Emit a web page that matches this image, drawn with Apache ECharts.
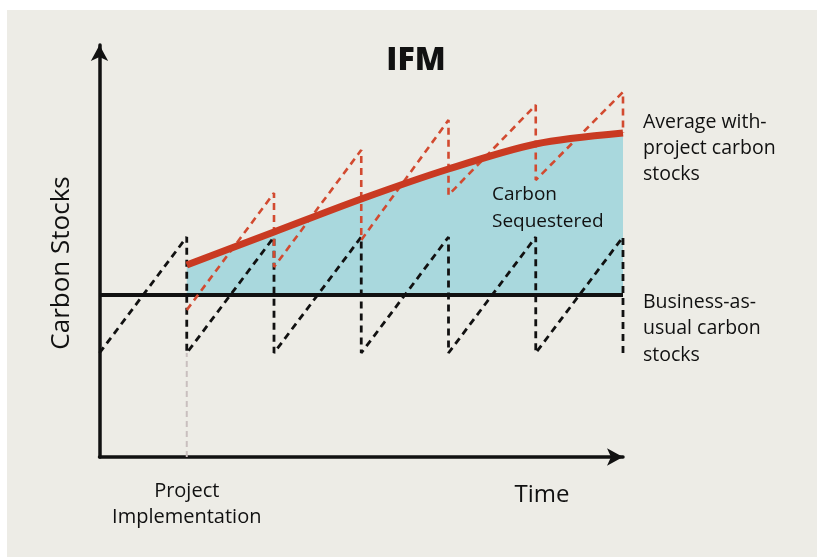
<!DOCTYPE html>
<html>
<head>
<meta charset="utf-8">
<script src="https://cdn.jsdelivr.net/npm/echarts@6/dist/echarts.min.js"></script>
<style>
  html, body { margin: 0; padding: 0; background: #ffffff; }
  #main { width: 817px; height: 557px; }
</style>
</head>
<body>
<div id="main"></div>
<script>
// harvest cycles along the time axis (cycle 1 = project implementation)
var cycleX = [0, 1, 2, 3, 4, 5, 6];
// business-as-usual stocks: just after harvest / just before harvest
var bauLow = [10.4, 10.4, 10.4, 10.4, 10.4, 10.4, 10.4];
var bauPeak = [22, 22, 22, 22, 22, 22, 22];
var bauAverage = 16.2;

// with-project stocks (start at project implementation)
var projX = [1, 2, 3, 4, 5, 6];
var projLow = [14.7, 19.0, 21.7, 26.2, 27.7, 32.4];
var projPeak = [null, 26.4, 30.7, 33.7, 35.2, 36.5];

// average with-project carbon stocks
var avgX = [1, 2, 3, 4, 5, 6];
var avgY = [19.2, 22.5, 25.8, 28.8, 31.3, 32.4];

var font = "'Open Sans', 'Noto Sans', sans-serif";

var bauSaw = [[cycleX[0], bauLow[0]]];
for (var i = 1; i < cycleX.length; i++) {
  bauSaw.push([cycleX[i], bauPeak[i]]);
  bauSaw.push([cycleX[i], bauLow[i]]);
}
var projSaw = [[projX[0], projLow[0]]];
for (var j = 1; j < projX.length; j++) {
  projSaw.push([projX[j], projPeak[j]]);
  projSaw.push([projX[j], projLow[j]]);
}
var avgData = avgX.map(function (x, k) { return [x, avgY[k]]; });

var chart = echarts.init(document.getElementById('main'));
var option = {
  backgroundColor: '#ffffff',
  animation: false,
  title: {
    text: 'IFM',
    left: 411,
    top: 40,
    textAlign: 'center',
    textStyle: { fontFamily: font, fontSize: 32, fontWeight: 800, color: '#111' }
  },
  graphic: [
    { type: 'rect', z: -10, silent: true, shape: { x: 7, y: 10, width: 810, height: 547 }, style: { fill: '#edece6' } },
    { type: 'text', z: 100, x: 62, y: 263, rotation: Math.PI / 2,
      style: { text: 'Carbon Stocks', fontFamily: font, fontSize: 26, fill: '#111', align: 'center', verticalAlign: 'middle' } },
    { type: 'text', z: 100, x: 542, y: 495,
      style: { text: 'Time', fontFamily: font, fontSize: 24, fill: '#111', align: 'center', verticalAlign: 'middle' } },
    { type: 'text', z: 100, x: 492, y: 181,
      style: { text: 'Carbon\nSequestered', fontFamily: font, fontSize: 19, lineHeight: 27, fill: '#111', align: 'left', verticalAlign: 'top' } },
    { type: 'text', z: 100, x: 643, y: 109,
      style: { text: 'Average with-\nproject carbon\nstocks', fontFamily: font, fontSize: 19.5, lineHeight: 26, fill: '#111', align: 'left', verticalAlign: 'top' } },
    { type: 'text', z: 100, x: 643, y: 289,
      style: { text: 'Business-as-\nusual carbon\nstocks', fontFamily: font, fontSize: 19.5, lineHeight: 26.5, fill: '#111', align: 'left', verticalAlign: 'top' } }
  ],
  grid: { left: 99.5, right: 194, top: 45, bottom: 100 },
  xAxis: {
    type: 'value',
    min: 0,
    max: 6,
    splitLine: { show: false },
    axisTick: { show: false },
    axisLine: {
      show: true,
      symbol: ['none', 'arrow'],
      symbolSize: [13, 16],
      lineStyle: { color: '#111', width: 3.5 }
    },
    axisLabel: {
      customValues: [1],
      formatter: function () { return 'Project\nImplementation'; },
      margin: 21,
      fontFamily: font,
      fontSize: 20,
      lineHeight: 26,
      color: '#111'
    }
  },
  yAxis: {
    type: 'value',
    min: 0,
    max: 41.2,
    splitLine: { show: false },
    axisTick: { show: false },
    axisLabel: { show: false },
    axisLine: {
      show: true,
      symbol: ['none', 'arrow'],
      symbolSize: [13, 16],
      lineStyle: { color: '#111', width: 3.5 }
    }
  },
  series: [
    {
      name: 'Carbon Sequestered',
      type: 'line',
      data: avgData,
      smooth: 0.3,
      symbol: 'none',
      lineStyle: { width: 0 },
      areaStyle: { origin: bauAverage, color: '#a9d8dd', opacity: 1 },
      z: 1
    },
    {
      name: 'Implementation',
      type: 'line',
      data: [[projX[0], 0], [projX[0], bauLow[1]]],
      symbol: 'none',
      lineStyle: { color: '#c9bfbf', width: 2, type: [6, 4] },
      z: 2
    },
    {
      name: 'Business-as-usual',
      type: 'line',
      data: [[cycleX[0], bauAverage], [cycleX[cycleX.length - 1], bauAverage]],
      symbol: 'none',
      lineStyle: { color: '#111', width: 4 },
      z: 3
    },
    {
      name: 'BAU stocks',
      type: 'line',
      data: bauSaw,
      symbol: 'none',
      lineStyle: { color: '#111', width: 2.8, type: [7, 5] },
      z: 4
    },
    {
      name: 'With-project stocks',
      type: 'line',
      data: projSaw,
      symbol: 'none',
      lineStyle: { color: '#d24a30', width: 2.6, type: [7, 5] },
      z: 5
    },
    {
      name: 'Average with-project',
      type: 'line',
      data: avgData,
      smooth: 0.3,
      symbol: 'none',
      lineStyle: { color: '#c93a22', width: 7, cap: 'butt' },
      z: 6
    }
  ]
};
chart.setOption(option);
</script>
</body>
</html>
